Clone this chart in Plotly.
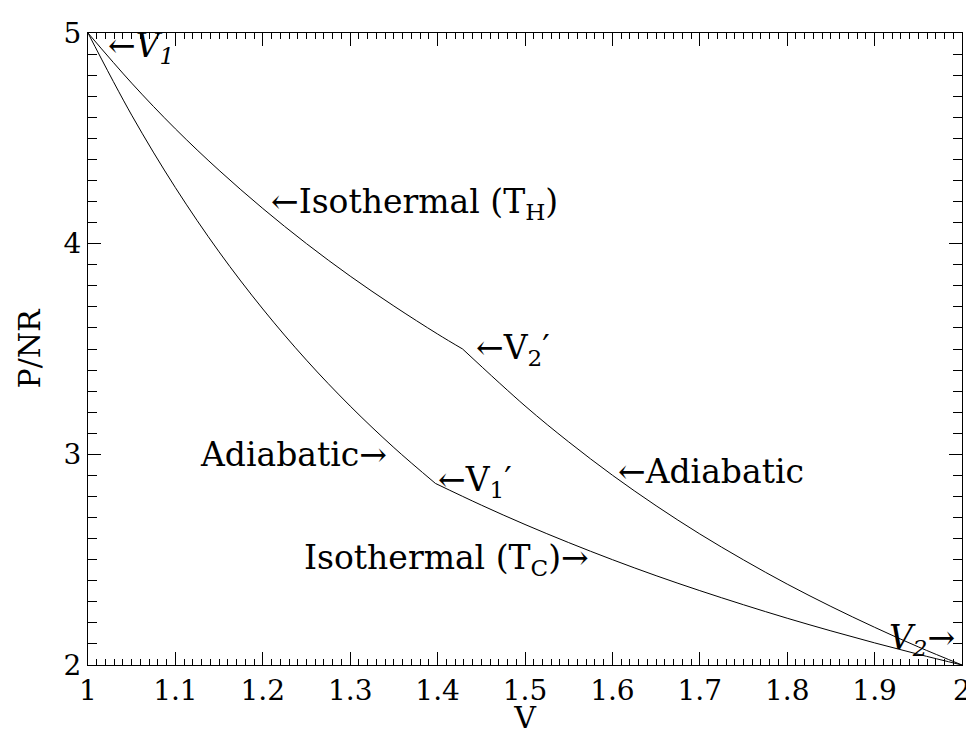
import plotly.graph_objects as go

# upper path: hot isotherm V1 -> V2', then adiabat V2' -> V2
iso_h_v = [1.00, 1.05, 1.10, 1.15, 1.20, 1.25, 1.30, 1.35, 1.40, 1.4286]
iso_h_p = [5.000, 4.762, 4.545, 4.348, 4.167, 4.000, 3.846, 3.704, 3.571, 3.500]

adi_u_v = [1.4286, 1.50, 1.55, 1.60, 1.65, 1.70, 1.75, 1.80, 1.85, 1.90, 1.95, 2.00]
adi_u_p = [3.500, 3.230, 3.059, 2.901, 2.756, 2.622, 2.499, 2.384, 2.278, 2.179, 2.086, 2.000]

# lower path: adiabat V1 -> V1', then cold isotherm V1' -> V2
adi_l_v = [1.00, 1.05, 1.10, 1.15, 1.20, 1.25, 1.30, 1.35, 1.3975]
adi_l_p = [5.000, 4.610, 4.266, 3.961, 3.690, 3.447, 3.229, 3.032, 2.862]

iso_c_v = [1.3975, 1.45, 1.50, 1.55, 1.60, 1.65, 1.70, 1.75, 1.80, 1.85, 1.90, 1.95, 2.00]
iso_c_p = [2.862, 2.759, 2.667, 2.581, 2.500, 2.424, 2.353, 2.286, 2.222, 2.162, 2.105, 2.051, 2.000]

FONT = "DejaVu Serif"

fig = go.Figure()
for xs, ys in [(iso_h_v, iso_h_p), (adi_u_v, adi_u_p), (adi_l_v, adi_l_p), (iso_c_v, iso_c_p)]:
    fig.add_trace(go.Scatter(
        x=xs, y=ys, mode="lines",
        line=dict(color="black", width=1, shape="spline"),
        showlegend=False, hoverinfo="skip",
    ))

# labels: (x, y, text, anchor)
labels = [
    (1.021, 4.93, "←<i>V<sub>1</sub></i>", "left"),
    (1.207, 4.19, "←Isothermal (T<sub>H</sub>)", "left"),
    (1.442, 3.50, "←V<sub>2</sub>′", "left"),
    (1.344, 3.00, "Adiabatic→", "right"),
    (1.398, 2.87, "←V<sub>1</sub>′", "left"),
    (1.604, 2.92, "←Adiabatic", "left"),
    (1.576, 2.50, "Isothermal (T<sub>C</sub>)→", "right"),
    (1.994, 2.12, "<i>V<sub>2</sub></i>→", "right"),
]
for x, y, txt, anc in labels:
    fig.add_annotation(
        x=x, y=y, text=txt, showarrow=False,
        xanchor=anc, yanchor="middle",
        font=dict(family=FONT, size=33, color="black"),
    )

axis_common = dict(
    showline=True, linecolor="black", linewidth=1, mirror="ticks",
    ticks="inside", tickcolor="black", tickwidth=1,
    showgrid=False, zeroline=False, automargin=False,
    tickfont=dict(family=FONT, size=28, color="black"),
)

fig.update_xaxes(
    range=[1, 2], dtick=0.1, tick0=1, ticklen=13,
    minor=dict(ticks="inside", dtick=0.01, ticklen=6, tickcolor="black", showgrid=False),
    title=dict(text="V", font=dict(family=FONT, size=30, color="black"), standoff=9),
    **axis_common,
)
fig.update_yaxes(
    range=[2, 5], dtick=1, tick0=2, ticklen=13, ticklabelstandoff=0,
    minor=dict(ticks="inside", dtick=0.1, ticklen=9, tickcolor="black", showgrid=False),
    title=dict(text="P/NR", font=dict(family=FONT, size=30, color="black"), standoff=14),
    **axis_common,
)

# page body adds an 8px offset, so the figure is a bit smaller than the window
fig.update_layout(
    width=966, height=727,
    margin=dict(l=80, r=12, t=25, b=70),
    plot_bgcolor="white", paper_bgcolor="white",
)

fig.write_html("out.html")
